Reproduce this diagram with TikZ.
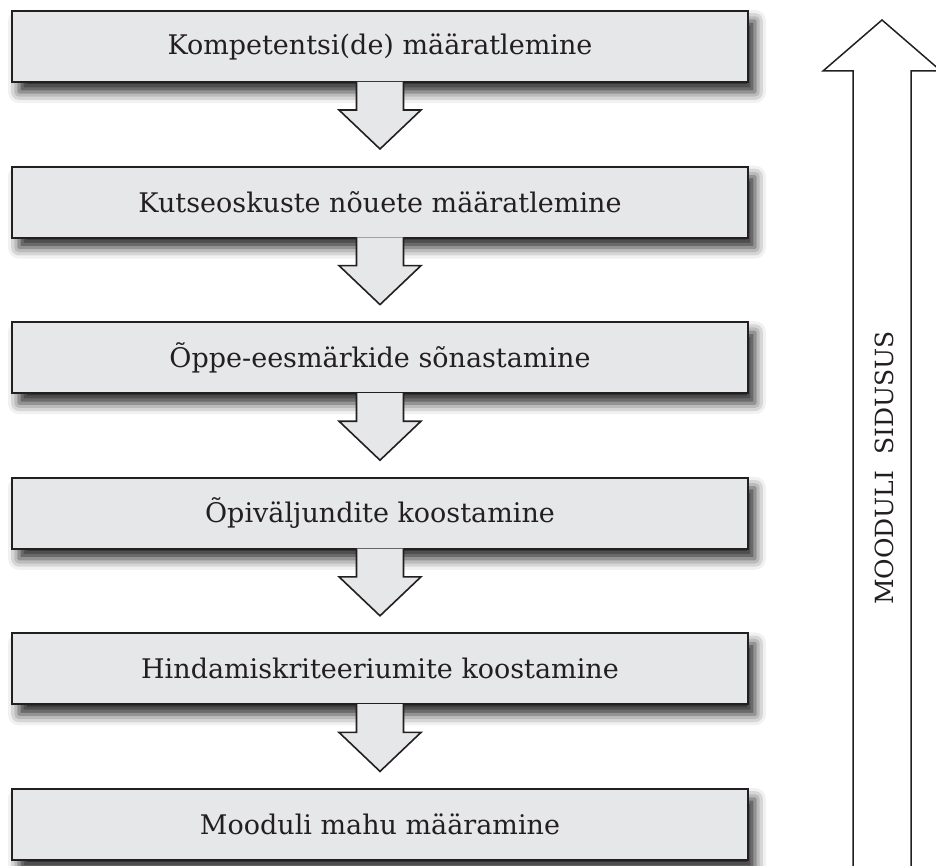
\documentclass[tikz,border=0pt]{standalone}
\usepackage{fontspec}
\setmainfont{DejaVu Serif}
\usetikzlibrary{shadows.blur}
\definecolor{boxfill}{HTML}{E6E7E8}
\definecolor{edge}{HTML}{231F20}
\begin{document}
\begin{tikzpicture}[x=1pt,y=-1pt,
  stagebox/.style={draw=edge, line width=2pt, fill=boxfill,
    minimum width=736pt, minimum height=71pt, inner sep=0pt,
    font=\fontsize{27}{32}\selectfont, text=edge,
    blur shadow={shadow xshift=7pt, shadow yshift=-10pt,
      shadow blur radius=11pt, shadow opacity=85}},
  flowarrow/.style={fill=boxfill, draw=edge, line width=1.6pt, line join=miter},
  bigarrow/.style={draw=edge, line width=1.5pt, line join=miter},
  sidelabel/.style={rotate=90, font=\fontsize{25}{30}\selectfont, text=edge}]
\useasboundingbox (0,0) rectangle (936,866);

% stages of module design, top to bottom
\node[stagebox] (s1) at (380,46.5)  {Kompetentsi(de) määratlemine};
\node[stagebox] (s2) at (380,202.1) {Kutseoskuste nõuete määratlemine};
\node[stagebox] (s3) at (380,357.7) {Õppe-eesmärkide sõnastamine};
\node[stagebox] (s4) at (380,513.3) {Õpiväljundite koostamine};
\node[stagebox] (s5) at (380,668.9) {Hindamiskriteeriumite koostamine};
\node[stagebox] (s6) at (380,824.5) {Mooduli mahu määramine};

% block arrows leading from each stage to the next
\foreach \s in {s1,s2,s3,s4,s5}{
  \draw[flowarrow] (\s.south) ++(-23.5,-1.2) -- ++(0,28.2) -- ++(-17.5,0)
    -- ++(41,39) -- ++(41,-39) -- ++(-17.5,0) -- ++(0,-28.2);
}

% tall upward arrow with its label
\coordinate (upbase) at (882,870);
\draw[bigarrow] (upbase) ++(-29,0) -- ++(0,-799) -- ++(-30,0)
  -- ++(59,-51) -- ++(59,51) -- ++(-30,0) -- ++(0,799);
\node[sidelabel] (cohesion) at (884,468) {MOODULI\ \ SIDUSUS};
\end{tikzpicture}
\end{document}
